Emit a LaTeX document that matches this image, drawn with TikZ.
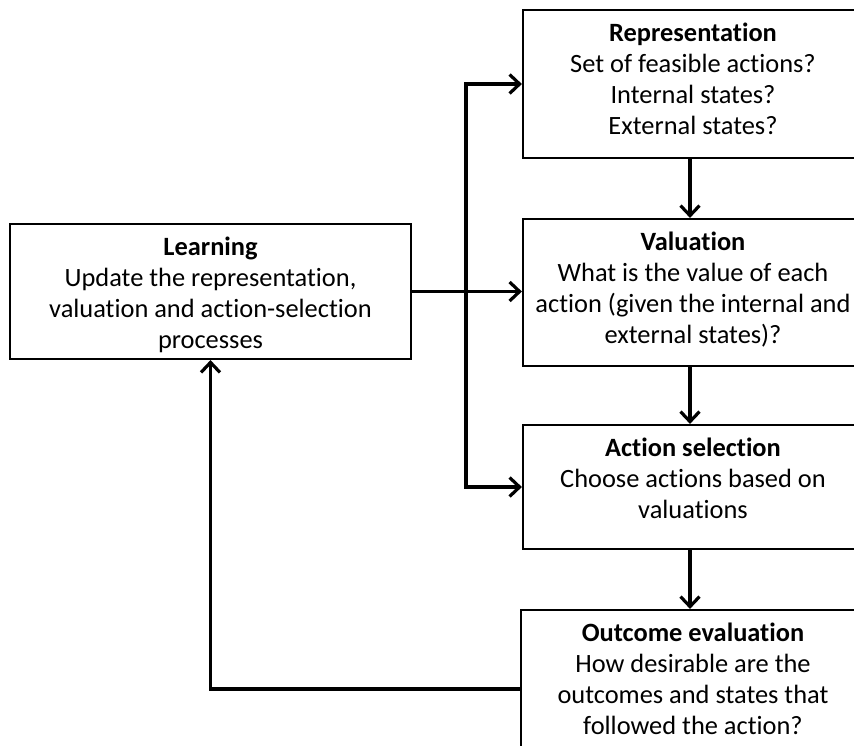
\documentclass[tikz,border=0pt]{standalone}
\usepackage{fontspec}
\setmainfont{Carlito}[Ligatures=NoCommon]
\usetikzlibrary{arrows.meta,calc}
\begin{document}
\begin{tikzpicture}[x=1pt,y=1pt,
  box/.style={draw=black,line width=2.2pt,rectangle,inner sep=0pt,minimum width=#1},
  box/.default=340pt,
  txt/.style={anchor=north,inner sep=0pt,align=center,font=\fontsize{26.4pt}{31pt}\selectfont},
  arr/.style={line width=3.5pt,-{Straight Barb[length=10pt,width=19pt,line width=3.2pt]}},
  ln/.style={line width=3.5pt}]
\useasboundingbox (0,0) rectangle (854,-745);
\clip (0,0) rectangle (854,-745);
\fill[white] (0,0) rectangle (854,-745);
% boxes
\node[box=401pt,minimum height=135pt] (learn) at (210.5,-291.5) {};
\node[box,minimum height=148pt] (rep) at (693,-84) {};
\node[box,minimum height=147pt] (val) at (693,-292.5) {};
\node[box,minimum height=124pt] (act) at (693,-487) {};
\node[box=344pt,minimum height=158pt] (out) at (693,-689) {};
% texts
\node[txt] (learnT) at ($(learn.north)+(0,-14)$) {\textbf{Learning}\\Update the representation,\\valuation and action-selection\\processes};
\node[txt] (repT) at ($(rep.north)+(0,-14)$) {\textbf{Representation}\\Set of feasible actions?\\Internal states?\\External states?};
\node[txt] (valT) at ($(val.north)+(0,-14)$) {\textbf{Valuation}\\What is the value of each\\action (given the internal and\\external states)?};
\node[txt] (actT) at ($(act.north)+(0,-14)$) {\textbf{Action selection}\\Choose actions based on\\valuations};
\node[txt] (outT) at ($(out.north)+(0,-14)$) {\textbf{Outcome evaluation}\\How desirable are the\\outcomes and states that\\followed the action?};
% connectors
\coordinate (j) at (466,-291.5);
\draw[arr] (learn.east) -- (learn.east -| val.west);
\draw[arr] (j) |- (rep.west);
\draw[arr] (j) |- (act.west);
\draw[arr] ($(rep.south)+(-3,0)$) -- ($(val.north)+(-3,0)$);
\draw[arr] ($(val.south)+(-3,0)$) -- ($(act.north)+(-3,0)$);
\draw[arr] ($(act.south)+(-3,0)$) -- ($(out.north)+(-3,0)$);
\draw[arr] (out.west) -| (learn.south);
\end{tikzpicture}
\end{document}
